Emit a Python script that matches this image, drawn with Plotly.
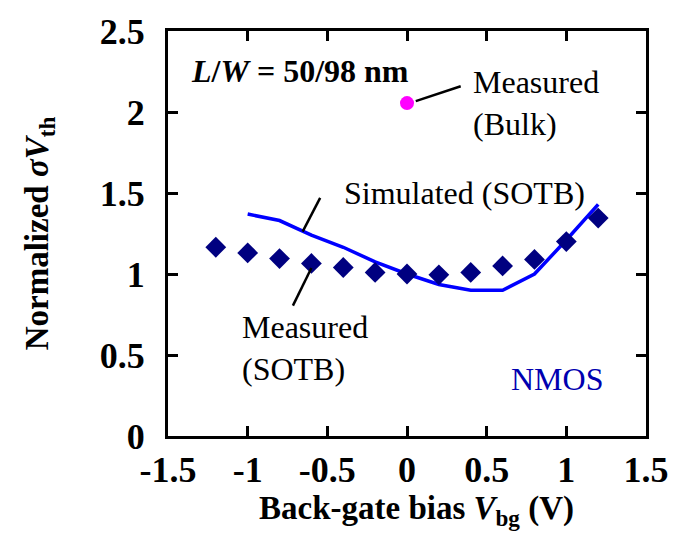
import plotly.graph_objects as go

# Data
vbg_meas = [-1.2, -1.0, -0.8, -0.6, -0.4, -0.2, 0.0, 0.2, 0.4, 0.6, 0.8, 1.0, 1.2]
sig_meas = [1.165, 1.13, 1.095, 1.065, 1.04, 1.01, 1.0, 0.995, 1.01, 1.05, 1.09, 1.2, 1.345]
vbg_sim = [-1.0, -0.8, -0.6, -0.4, -0.2, 0.0, 0.2, 0.4, 0.6, 0.8, 1.0, 1.2]
sig_sim = [1.37, 1.33, 1.24, 1.165, 1.075, 1.0, 0.935, 0.9, 0.9, 1.0, 1.21, 1.43]
vbg_bulk = [0.0]
sig_bulk = [2.055]
x_ticks = [-1.5, -1, -0.5, 0, 0.5, 1, 1.5]
y_ticks = [0, 0.5, 1, 1.5, 2, 2.5]
x_labels = ["-1.5", "-1", "-0.5", "0", "0.5", "1", "1.5"]
y_labels = ["0", "0.5", "1", "1.5", "2", "2.5"]

FONT = "Liberation Serif"

fig = go.Figure()
fig.add_trace(go.Scatter(x=vbg_sim, y=sig_sim, mode="lines",
                         line=dict(color="#0000FF", width=3.5), showlegend=False))
fig.add_trace(go.Scatter(x=vbg_meas, y=sig_meas, mode="markers",
                         marker=dict(symbol="diamond", size=16, color="#000080"),
                         showlegend=False))
fig.add_trace(go.Scatter(x=vbg_bulk, y=sig_bulk, mode="markers",
                         marker=dict(symbol="circle", size=14, color="#FF00FF"),
                         showlegend=False))

# leader lines
for (x0, y0, x1, y1) in [(0.055, 2.067, 0.337, 2.159),
                         (-0.655, 1.262, -0.545, 1.470),
                         (-0.600, 1.037, -0.716, 0.805)]:
    fig.add_shape(type="line", x0=x0, y0=y0, x1=x1, y1=y1, xref="x", yref="y",
                  line=dict(color="black", width=2.5))

def ann(x, y, text, color="black", size=32):
    fig.add_annotation(x=x, y=y, xref="x", yref="y", text=text, showarrow=False,
                       xanchor="left", yanchor="middle", align="left", borderpad=0,
                       font=dict(family=FONT, size=size, color=color))

ann(-1.365, 2.256, "<b><i>L</i>/<i>W</i> = 50/98 nm</b>", size=32)
ann(0.41, 2.055, "Measured<br>(Bulk)")
ann(-0.404, 1.50, "Simulated (SOTB)")
ann(-1.041, 0.543, "Measured<br>(SOTB)")
ann(0.645, 0.354, "NMOS", color="#0000B0")

# x-axis title as annotation (centred as in reference)
fig.add_annotation(x=0.52, y=-0.183, xref="paper", yref="paper", showarrow=False,
                   xanchor="center", yanchor="middle",
                   text="<b>Back-gate bias <i>V</i><sub>bg</sub> (V)</b>",
                   font=dict(family=FONT, size=33, color="black"))

axis_common = dict(showline=True, linecolor="black", linewidth=3, mirror="ticks",
                   ticks="inside", ticklen=10, tickwidth=2.5, tickcolor="black",
                   showgrid=False, zeroline=False,
                   tickfont=dict(family=FONT, size=36, color="black"))

fig.update_xaxes(range=[-1.5, 1.5], tickvals=x_ticks,
                 ticktext=["<b>%s</b>" % t for t in x_labels],
                 **axis_common)
fig.update_yaxes(range=[0, 2.5], tickvals=y_ticks,
                 ticktext=["<b>%s</b>" % t for t in y_labels],
                 ticklabelstandoff=13,
                 title=dict(text="<b>Normalized <i>σV</i><sub>th</sub></b>",
                            font=dict(family=FONT, size=33, color="black"), standoff=42),
                 **axis_common)

fig.update_layout(width=681, height=540, margin=dict(l=168, r=23, t=26, b=104),
                  plot_bgcolor="white", paper_bgcolor="white",
                  font=dict(family=FONT, color="black"))

fig.write_html("out.html")
